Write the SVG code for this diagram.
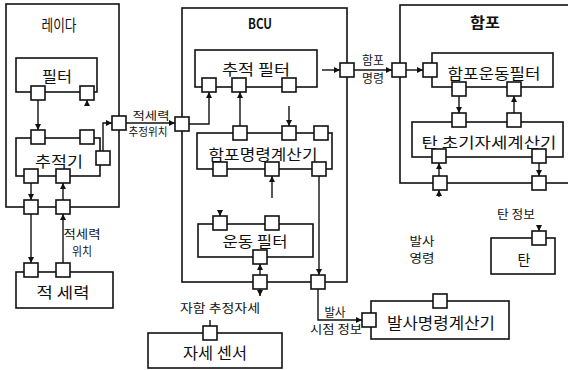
<svg xmlns="http://www.w3.org/2000/svg" width="568" height="370" viewBox="0 0 568 370">
<style>
.box{fill:none;stroke:#111;stroke-width:1.6}
.port{fill:#fff;stroke:#111;stroke-width:1.6}
.ln{fill:none;stroke:#111;stroke-width:1.4}
.t{font-family:"Noto Sans CJK KR","Liberation Sans",sans-serif;fill:#111;text-anchor:middle;dominant-baseline:central}
.big{font-size:15px}
.sm{font-size:11px}
</style>
<defs>
<marker id="ah" viewBox="0 0 8 8" refX="8" refY="4" markerWidth="6" markerHeight="6" orient="auto" markerUnits="userSpaceOnUse"><path d="M0,0 L8,4 L0,8 z" fill="#111"/></marker>
</defs>
<rect width="568" height="370" fill="#fff"/>

<g id="radar">
<rect class="box" x="6" y="4" width="113" height="203"/>
<text class="t" x="59" y="24" font-size="16" textLength="35" lengthAdjust="spacingAndGlyphs">레이다</text>
<rect class="port" x="24" y="200" width="14" height="14"/>
<rect class="port" x="56" y="200" width="14" height="14"/>
<rect class="port" x="112" y="116" width="14" height="14"/>
</g>

<g id="filter">
<rect class="box" x="16" y="58" width="81" height="34"/>
<text class="t big" x="57" y="75" textLength="30" lengthAdjust="spacingAndGlyphs">필터</text>
<rect class="port" x="31" y="86" width="14" height="14"/>
<rect class="port" x="80" y="86" width="14" height="14"/>
</g>

<g id="tracker">
<rect class="box" x="16" y="138" width="84" height="38"/>
<text class="t big" x="59" y="160" textLength="48" lengthAdjust="spacingAndGlyphs">추적기</text>
<rect class="port" x="31" y="130" width="14" height="14"/>
<rect class="port" x="80" y="130" width="14" height="14"/>
<rect class="port" x="96" y="151" width="14" height="14"/>
<rect class="port" x="24" y="169" width="14" height="14"/>
<rect class="port" x="56" y="169" width="14" height="14"/>
</g>

<g id="enemy">
<rect class="box" x="16" y="272" width="97" height="36"/>
<text class="t big" x="63" y="291" textLength="53" lengthAdjust="spacingAndGlyphs">적 세력</text>
<rect class="port" x="24" y="263" width="14" height="14"/>
<rect class="port" x="56" y="263" width="14" height="14"/>
</g>

<g id="bcu">
<rect class="box" x="182" y="8" width="165" height="274"/>
<text class="t" x="260" y="23" font-size="14" font-weight="bold" textLength="24" lengthAdjust="spacingAndGlyphs">BCU</text>
<rect class="port" x="175" y="117" width="14" height="14"/>
<rect class="port" x="340" y="63" width="14" height="14"/>
<rect class="port" x="253" y="275" width="14" height="14"/>
<rect class="port" x="311" y="275" width="14" height="14"/>
</g>

<g id="track-filter">
<rect class="box" x="195" y="50" width="122" height="37"/>
<text class="t big" x="256" y="68" textLength="68" lengthAdjust="spacingAndGlyphs">추적 필터</text>
<rect class="port" x="202" y="78" width="14" height="14"/>
<rect class="port" x="232" y="78" width="14" height="14"/>
<rect class="port" x="282" y="78" width="14" height="14"/>
</g>

<g id="gun-cmd-calc">
<rect class="box" x="197" y="133" width="135" height="36"/>
<text class="t big" x="263" y="153" textLength="109" lengthAdjust="spacingAndGlyphs">함포명령계산기</text>
<rect class="port" x="233" y="126" width="14" height="14"/>
<rect class="port" x="282" y="126" width="14" height="14"/>
<rect class="port" x="314" y="126" width="14" height="14"/>
<rect class="port" x="213" y="162" width="14" height="14"/>
<rect class="port" x="265" y="162" width="14" height="14"/>
<rect class="port" x="312" y="162" width="14" height="14"/>
</g>

<g id="motion-filter">
<rect class="box" x="198" y="224" width="115" height="33"/>
<text class="t big" x="255" y="240" textLength="65" lengthAdjust="spacingAndGlyphs">운동 필터</text>
<rect class="port" x="213" y="216" width="14" height="14"/>
<rect class="port" x="265" y="216" width="14" height="14"/>
<rect class="port" x="253" y="250" width="14" height="14"/>
</g>

<g id="attitude-sensor">
<rect class="box" x="148" y="333" width="134" height="35"/>
<text class="t" x="215" y="352" font-size="16" textLength="64" lengthAdjust="spacingAndGlyphs">자세 센서</text>
<rect class="port" x="203" y="326" width="14" height="14"/>
</g>

<g id="gun">
<rect class="box" x="400" y="5" width="200" height="178"/>
<text class="t" x="485" y="21" font-size="15" font-weight="bold" textLength="30" lengthAdjust="spacingAndGlyphs">함포</text>
<rect class="port" x="392" y="63" width="14" height="14"/>
<rect class="port" x="433" y="176" width="14" height="14"/>
<rect class="port" x="532" y="176" width="14" height="14"/>
</g>

<g id="gun-motion-filter">
<rect class="box" x="432" y="53" width="121" height="34"/>
<text class="t big" x="494" y="72" textLength="93" lengthAdjust="spacingAndGlyphs">함포운동필터</text>
<rect class="port" x="423" y="63" width="14" height="14"/>
<rect class="port" x="452" y="82" width="14" height="14"/>
<rect class="port" x="507" y="82" width="14" height="14"/>
</g>

<g id="shell-init-calc">
<rect class="box" x="412" y="122" width="151" height="35"/>
<text class="t big" x="489" y="141" textLength="135" lengthAdjust="spacingAndGlyphs">탄 초기자세계산기</text>
<rect class="port" x="452" y="113" width="14" height="14"/>
<rect class="port" x="507" y="113" width="14" height="14"/>
<rect class="port" x="432" y="149" width="14" height="14"/>
<rect class="port" x="532" y="149" width="14" height="14"/>
</g>

<g id="shell">
<rect class="box" x="491" y="238" width="64" height="36"/>
<text class="t" x="524" y="259" font-size="14">탄</text>
<rect class="port" x="532" y="231" width="14" height="14"/>
</g>

<g id="fire-cmd-calc">
<rect class="box" x="371" y="301" width="138" height="38"/>
<text class="t" x="441" y="322" font-size="16" textLength="108" lengthAdjust="spacingAndGlyphs">발사명령계산기</text>
<rect class="port" x="362" y="313" width="14" height="14"/>
<rect class="port" x="433" y="294" width="14" height="14"/>
</g>

<g id="connectors">
<path class="ln" d="M38,100 V130" marker-end="url(#ah)"/>
<path class="ln" d="M87,106 V100" marker-end="url(#ah)"/>
<path class="ln" d="M103,151 V123 H112" marker-end="url(#ah)"/>
<path class="ln" d="M31,183 V200" marker-end="url(#ah)"/>
<path class="ln" d="M63,200 V183" marker-end="url(#ah)"/>
<path class="ln" d="M31,214 V263" marker-end="url(#ah)"/>
<path class="ln" d="M63,263 V214" marker-end="url(#ah)"/>
<path class="ln" d="M126,123 H175" marker-end="url(#ah)"/>
<path class="ln" d="M189,124 H209 V92" marker-end="url(#ah)"/>
<path class="ln" d="M240,126 V92" marker-end="url(#ah)"/>
<path class="ln" d="M322,70 H340" marker-end="url(#ah)"/>
<path class="ln" d="M354,70 H392" marker-end="url(#ah)"/>
<path class="ln" d="M289,106 V126" marker-end="url(#ah)"/>
<path class="ln" d="M272,198 V176" marker-end="url(#ah)"/>
<path class="ln" d="M319,176 V275" marker-end="url(#ah)"/>
<path class="ln" d="M220,210 V216" marker-end="url(#ah)"/>
<path class="ln" d="M260,275 V264" marker-end="url(#ah)"/>
<path class="ln" d="M260,289 V296" marker-end="url(#ah)"/>
<path class="ln" d="M318,289 V320 H362" marker-end="url(#ah)"/>
<path class="ln" d="M210,320 V326"/>
<path class="ln" d="M406,70 H423" marker-end="url(#ah)"/>
<path class="ln" d="M459,96 V113" marker-end="url(#ah)"/>
<path class="ln" d="M514,113 V96" marker-end="url(#ah)"/>
<path class="ln" d="M439,176 V163" marker-end="url(#ah)"/>
<path class="ln" d="M439,197 V190" marker-end="url(#ah)"/>
<path class="ln" d="M539,163 V176" marker-end="url(#ah)"/>
<path class="ln" d="M539,225 V231" marker-end="url(#ah)"/>
</g>

<g id="labels">
<text class="t sm" x="151" y="115" textLength="37" lengthAdjust="spacingAndGlyphs">적세력</text>
<text class="t sm" x="148" y="131" textLength="39" lengthAdjust="spacingAndGlyphs">추정위치</text>
<text class="t" x="82" y="233" font-size="12" textLength="37" lengthAdjust="spacingAndGlyphs">적세력</text>
<text class="t" x="82" y="250" font-size="12" textLength="20" lengthAdjust="spacingAndGlyphs">위치</text>
<text class="t" x="373" y="59" font-size="12" textLength="22" lengthAdjust="spacingAndGlyphs">함포</text>
<text class="t" x="373" y="77" font-size="12" textLength="22" lengthAdjust="spacingAndGlyphs">명령</text>
<text class="t" x="220" y="307" font-size="12" textLength="80" lengthAdjust="spacingAndGlyphs">자함 추정자세</text>
<text class="t" x="335" y="311" font-size="12" textLength="21" lengthAdjust="spacingAndGlyphs">발사</text>
<text class="t" x="336" y="328" font-size="12" textLength="52" lengthAdjust="spacingAndGlyphs">시점 정보</text>
<text class="t" x="422" y="240" font-size="12" textLength="25" lengthAdjust="spacingAndGlyphs">발사</text>
<text class="t" x="422" y="257" font-size="12" textLength="25" lengthAdjust="spacingAndGlyphs">영령</text>
<text class="t" x="516" y="213" font-size="12" textLength="38" lengthAdjust="spacingAndGlyphs">탄 정보</text>
</g>
</svg>
